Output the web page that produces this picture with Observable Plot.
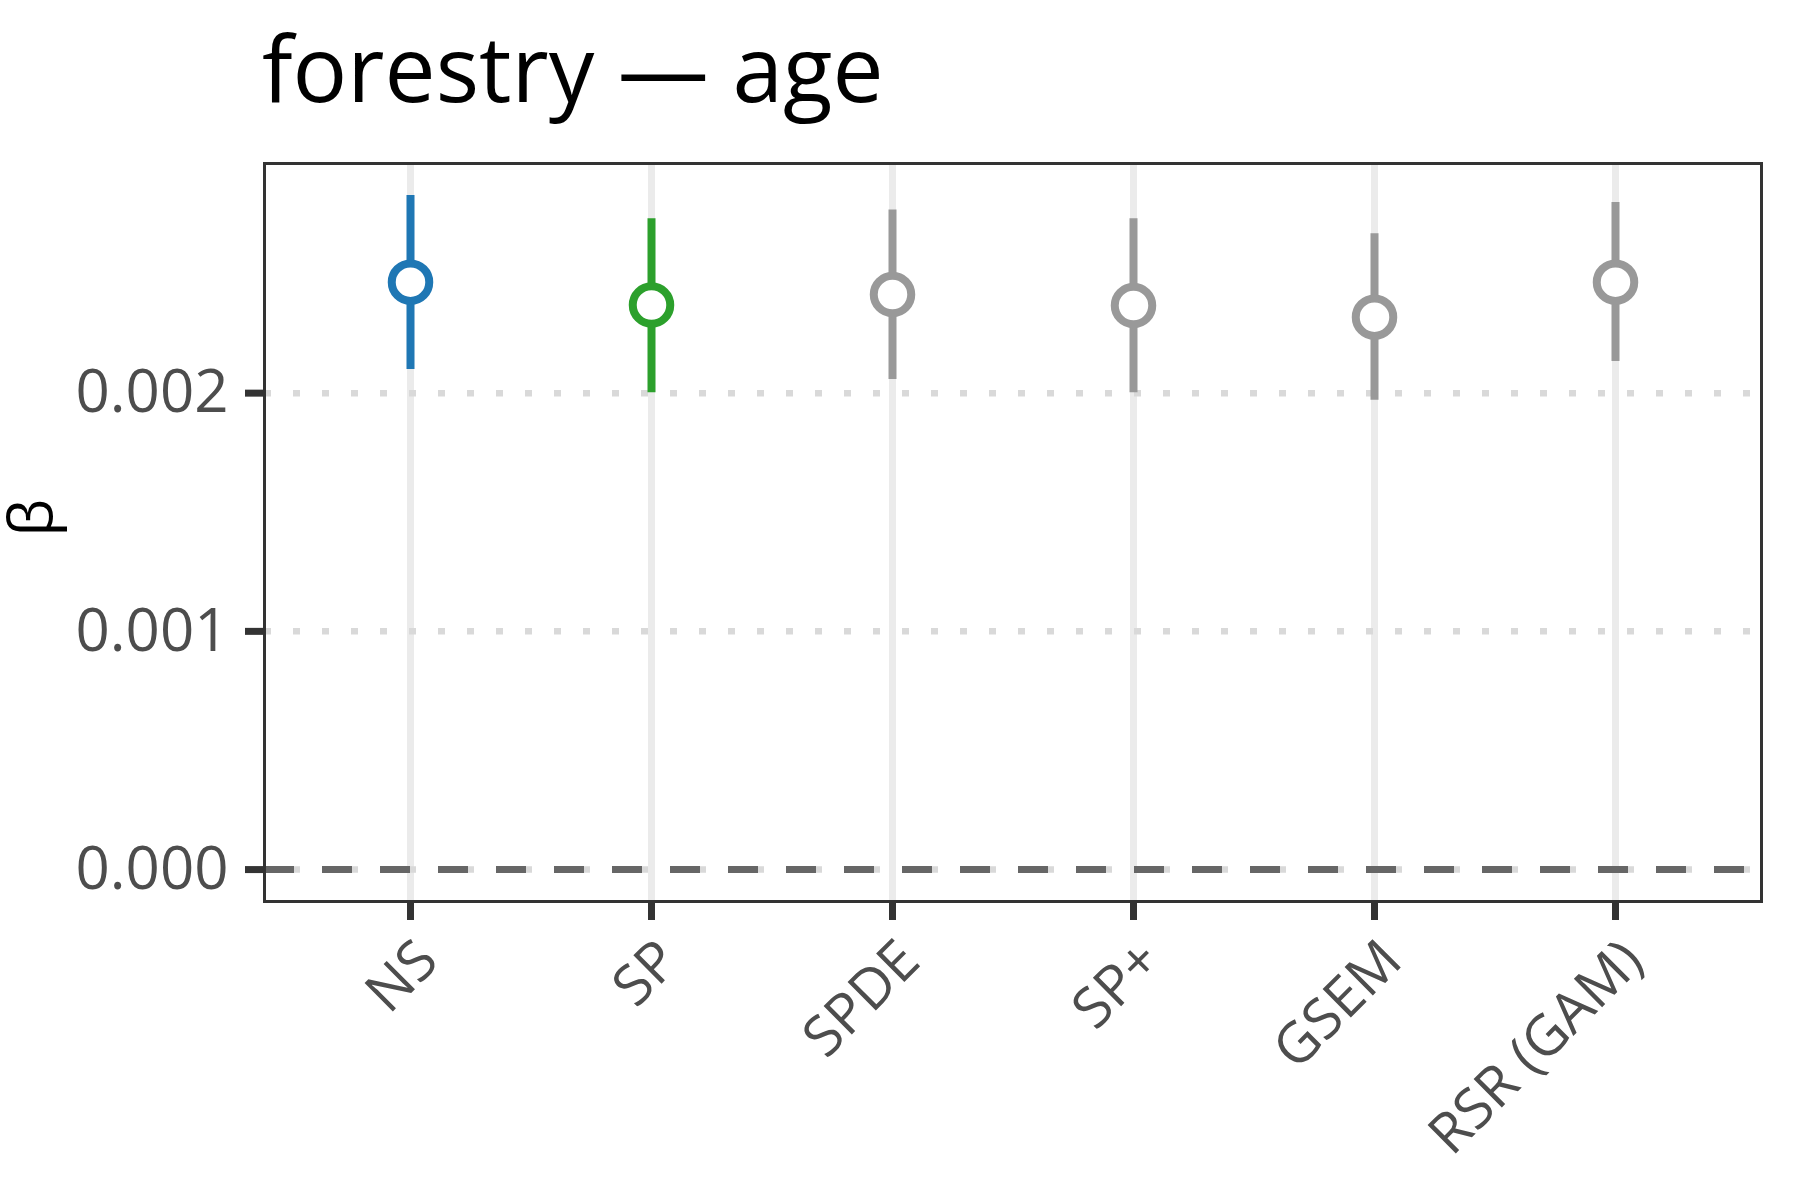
<!DOCTYPE html>
<html>
<head>
<meta charset="utf-8">
<script src="https://cdn.jsdelivr.net/npm/d3@7"></script>
<script src="https://cdn.jsdelivr.net/npm/@observablehq/plot@0.6"></script>
<style>
  html, body { margin: 0; padding: 0; background: #fff; }
  #wrap { position: relative; width: 1800px; height: 1200px; font-family: "Open Sans", "Noto Sans", sans-serif; }
  #title { position: absolute; left: 262px; top: 22px; font-size: 91px; line-height: 1; color: #000; white-space: nowrap; }
  #chart { position: absolute; left: 0; top: 0; }
</style>
</head>
<body>
<div id="wrap">
  <div id="chart"></div>
  <div id="title">forestry — age</div>
</div>
<script>
const models = ["NS", "SP", "SPDE", "SP+", "GSEM", "RSR (GAM)"];
const estimate = [0.002466, 0.002370, 0.002414, 0.002368, 0.002319, 0.002466];
const lower    = [0.002099, 0.002002, 0.002057, 0.002002, 0.001970, 0.002133];
const upper    = [0.002830, 0.002732, 0.002769, 0.002732, 0.002669, 0.002800];
const modelColors = ["#1f77b4", "#2ca02c", "#999999", "#999999", "#999999", "#999999"];
const yTicks = [0, 0.001, 0.002];
const yLabel = "β";

const data = models.map((m, i) => ({model: m, est: estimate[i], lo: lower[i], hi: upper[i]}));

const chart = Plot.plot({
  width: 1800,
  height: 1200,
  marginTop: 163,
  marginBottom: 299,
  marginLeft: 264,
  marginRight: 39,
  style: {fontFamily: "'Open Sans', 'Noto Sans', sans-serif", background: "white"},
  x: {type: "point", domain: models, padding: 0.593, axis: null},
  y: {domain: [-0.000134, 0.002964], axis: null},
  color: {type: "ordinal", domain: models, range: modelColors},
  marks: [
    // vertical major gridlines
    Plot.ruleX(models, {x: d => d, stroke: "#ebebeb", strokeWidth: 7}),
    // horizontal dotted gridlines
    Plot.ruleY(yTicks, {y: d => d, stroke: "#d9d9d9", strokeWidth: 6.5, strokeDasharray: "7,22"}),
    // zero reference line
    Plot.ruleY([0], {y: d => d, stroke: "#666666", strokeWidth: 7, strokeDasharray: "30,28"}),
    // intervals
    Plot.ruleX(data, {x: "model", y1: "lo", y2: "hi", stroke: "model", strokeWidth: 8}),
    // point estimates
    Plot.dot(data, {x: "model", y: "est", r: 18.75, stroke: "model", strokeWidth: 8, fill: "white"}),
    // panel border
    Plot.frame({stroke: "#333333", strokeWidth: 3}),
    // y ticks
    Plot.axisY({ticks: yTicks, tickSize: 19, tickFormat: () => "", stroke: "#333333", strokeWidth: 7, label: null}),
    Plot.axisY({ticks: yTicks, tickSize: 0, tickPadding: 36, tickFormat: d3.format(".3f"), fontSize: 60, fill: "#4d4d4d", label: null}),
    // x ticks
    Plot.axisX({ticks: models, tickSize: 19, tickFormat: () => "", stroke: "#333333", strokeWidth: 7, label: null}),
    // x tick labels rotated
    Plot.text(models, {x: d => d, frameAnchor: "bottom", dx: 2, dy: 34, rotate: -45, textAnchor: "end", lineAnchor: "top", fontSize: 56, fill: "#4d4d4d"}),
    // y axis title
    Plot.text([yLabel], {frameAnchor: "left", dx: -232, dy: 4, rotate: -90, fontSize: 60, fill: "#000000"})
  ]
});
document.getElementById("chart").appendChild(chart);
</script>
</body>
</html>
